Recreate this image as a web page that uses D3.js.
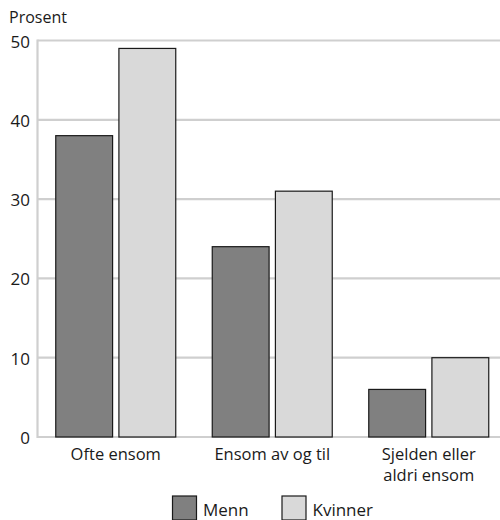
<!DOCTYPE html>
<html>
<head>
<meta charset="utf-8">
<script src="https://cdn.jsdelivr.net/npm/d3@7"></script>
<style>
  body { margin: 0; background: #fff; }
  text { font-family: "Open Sans", "Noto Sans", sans-serif; fill: #1a1a1a; }
</style>
</head>
<body>
<svg id="chart" width="500" height="520"></svg>
<script>
// Share (%) who feel lonely, by sex
const categories = [["Ofte ensom"], ["Ensom av og til"], ["Sjelden eller", "aldri ensom"]];
const seriesNames = ["Menn", "Kvinner"];
const menn = [38, 24, 6];
const kvinner = [49, 31, 10];
const yTicks = [0, 10, 20, 30, 40, 50];

const colors = ["#808080", "#d9d9d9"];
const svg = d3.select("#chart");

const x0 = 37.5, yBottom = 437, yTop = 40.5, step = 156.5;
const x = d3.scaleBand().domain(d3.range(categories.length)).range([x0, x0 + step * 3]);
const y = d3.scaleLinear().domain([0, 50]).range([yBottom, yTop]);
// two bars per group: 57 px wide, 6 px apart, centred in the group
const inner = d3.scaleBand().domain(d3.range(seriesNames.length))
  .range([(step - 120) / 2, (step + 120) / 2]).paddingInner(6 / 60).paddingOuter(0);

// gridlines
svg.append("g").selectAll("line").data(yTicks).join("line")
  .attr("x1", x0).attr("x2", 500)
  .attr("y1", d => y(d)).attr("y2", d => y(d))
  .attr("stroke", "#cfcfcf").attr("stroke-width", 2.2);

// left axis line
svg.append("line").attr("x1", x0).attr("x2", x0).attr("y1", yTop - 1).attr("y2", yBottom + 1)
  .attr("stroke", "#cfcfcf").attr("stroke-width", 2.2);

// y tick labels
svg.append("g").selectAll("text").data(yTicks).join("text")
  .attr("x", 30).attr("y", d => y(d) + 7)
  .attr("text-anchor", "end").attr("font-size", 17)
  .text(d => d);

svg.append("text").attr("x", 9).attr("y", 23).attr("font-size", 16).text("Prosent");

// bars
const series = [menn, kvinner];
series.forEach((vals, s) => {
  svg.append("g").selectAll("rect").data(vals).join("rect")
    .attr("x", (d, i) => x(i) + inner(s))
    .attr("width", inner.bandwidth())
    .attr("y", d => y(d))
    .attr("height", d => y(0) - y(d))
    .attr("fill", colors[s])
    .attr("stroke", "#1a1a1a").attr("stroke-width", 1.2);
});

// category labels
const catG = svg.append("g").selectAll("text").data(categories).join("text")
  .attr("text-anchor", "middle").attr("font-size", 16.5)
  .attr("transform", (d, i) => `translate(${x(i) + x.bandwidth() / 2},${yBottom + 23})`);
catG.selectAll("tspan").data(d => d).join("tspan")
  .attr("x", 0).attr("dy", (d, j) => j === 0 ? 0 : 21).text(d => d);

// legend
const legendX = [172.5, 282];
const lg = svg.append("g").selectAll("g").data(seriesNames).join("g")
  .attr("transform", (d, i) => `translate(${legendX[i]},496)`);
lg.append("rect").attr("width", 24).attr("height", 24)
  .attr("fill", (d, i) => colors[i]).attr("stroke", "#1a1a1a").attr("stroke-width", 1.2);
lg.append("text").attr("x", 30.5).attr("y", 20).attr("font-size", 17).text(d => d);
</script>
</body>
</html>
